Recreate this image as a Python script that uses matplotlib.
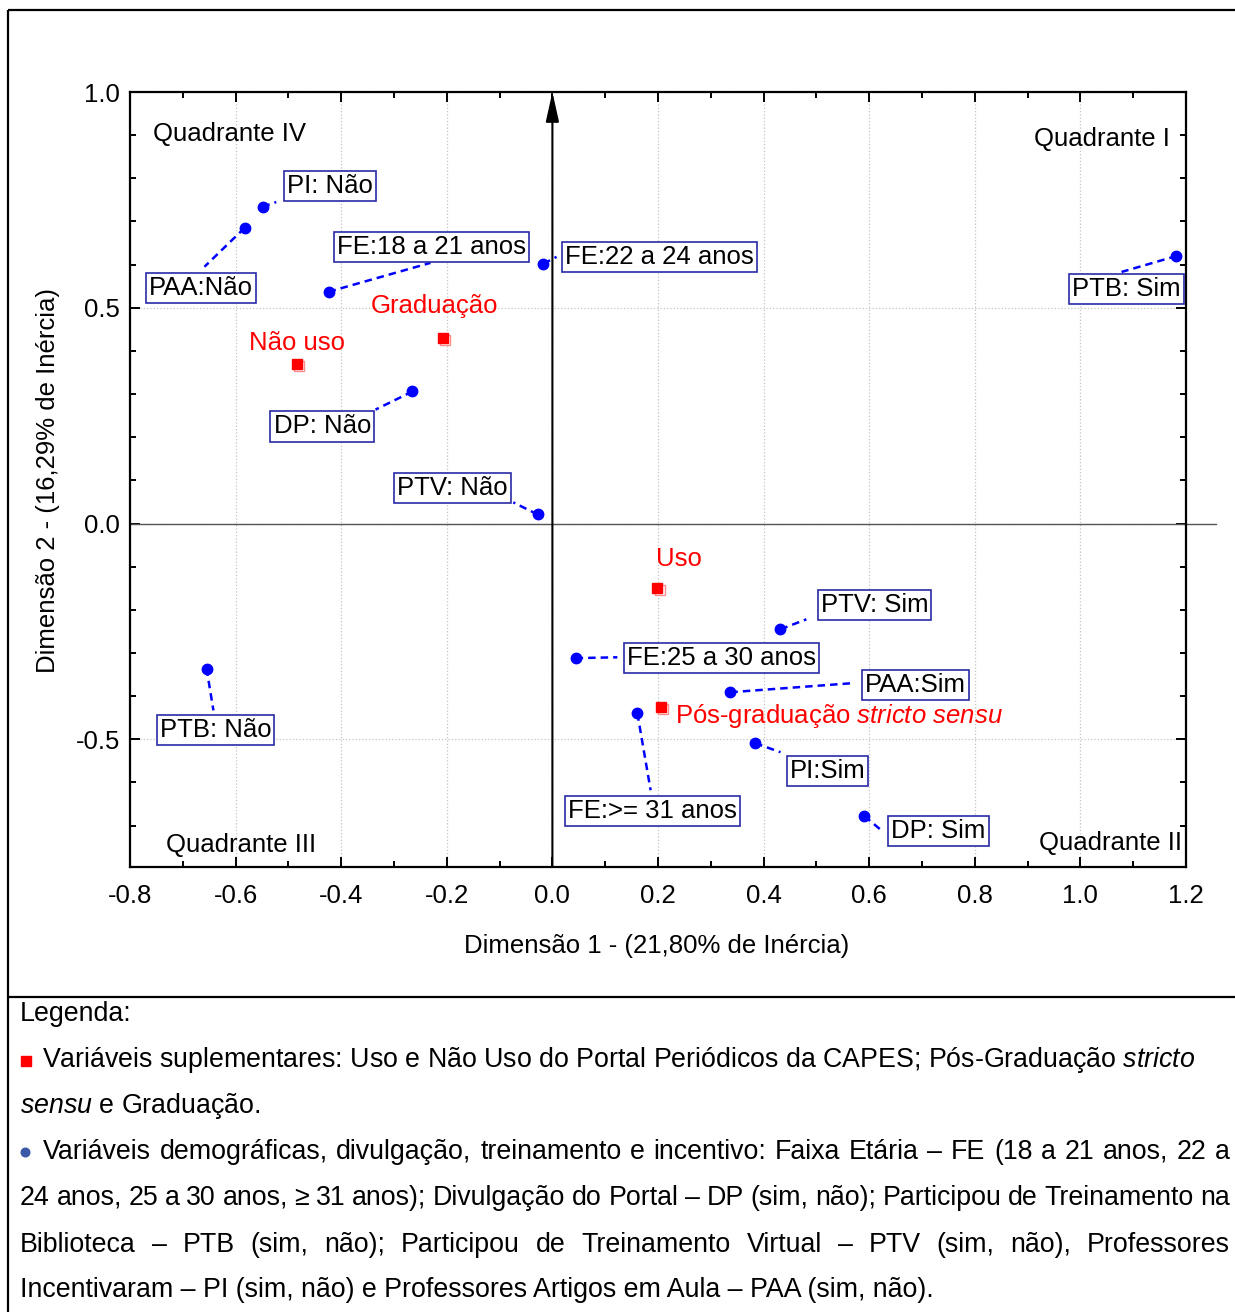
#!/usr/bin/env python3

import numpy as np
import matplotlib
matplotlib.use('Agg')
import matplotlib.pyplot as plt
import matplotlib.transforms as mtransforms

plt.rcParams['font.family'] = ['Liberation Sans', 'DejaVu Sans']
plt.rcParams['axes.unicode_minus'] = False
plt.rcParams['mathtext.fontset'] = 'custom'
plt.rcParams['mathtext.rm'] = 'Liberation Sans'
plt.rcParams['mathtext.it'] = 'Liberation Sans:italic'

#-----------------------------------------------------------------------------#
# data

# active variables (blue dots)
labels = ['PI: Não', 'PAA:Não', 'FE:18 a 21 anos', 'FE:22 a 24 anos', 'PTB: Sim',
          'DP: Não', 'PTV: Não', 'PTB: Não', 'FE:25 a 30 anos', 'PTV: Sim',
          'PAA:Sim', 'FE:>= 31 anos', 'PI:Sim', 'DP: Sim']
dim1 = [-0.549, -0.583, -0.424, -0.017, 1.182, -0.265, -0.028,
        -0.655, 0.044, 0.432, 0.337, 0.161, 0.384, 0.591]
dim2 = [0.734, 0.685, 0.537, 0.602, 0.620, 0.306, 0.021,
        -0.336, -0.312, -0.245, -0.391, -0.440, -0.509, -0.678]

# supplementary variables (red squares)
sup_labels = ['Não uso', 'Graduação', 'Uso',
              r'Pós-graduação $\mathit{stricto\ sensu}$']
sup_dim1 = [-0.483, -0.208, 0.199, 0.206]
sup_dim2 = [0.370, 0.431, -0.150, -0.426]

# where the label boxes sit and where the dashed leaders end
lab_x = [-0.422, -0.665, -0.229, 0.203, 1.087, -0.436, -0.189,
         -0.638, 0.320, 0.610, 0.688, 0.189, 0.521, 0.731]
lab_y = [0.782, 0.546, 0.641, 0.618, 0.544, 0.225, 0.083,
         -0.479, -0.312, -0.188, -0.375, -0.667, -0.574, -0.713]
end_x = [-0.523, -0.659, -0.231, 0.008, 1.078, -0.335, -0.074,
         -0.642, 0.123, 0.481, 0.568, 0.186, 0.432, 0.623]
end_y = [0.745, 0.595, 0.604, 0.618, 0.583, 0.264, 0.049,
         -0.433, -0.310, -0.222, -0.370, -0.618, -0.530, -0.711]

sup_lab_x = [-0.483, -0.223, 0.239, 0.233]
sup_lab_y = [0.419, 0.505, -0.083, -0.447]
sup_lab_ha = ['center', 'center', 'center', 'left']

x_ticks = [-0.8, -0.6, -0.4, -0.2, 0.0, 0.2, 0.4, 0.6, 0.8, 1.0, 1.2]
y_ticks = [-0.5, 0.0, 0.5, 1.0]

legend_lines = [
    'Variáveis demográficas, divulgação, treinamento e incentivo: Faixa Etária – FE (18 a 21 anos, 22 a',
    '24 anos, 25 a 30 anos, ≥ 31 anos); Divulgação do Portal – DP (sim, não); Participou de Treinamento na',
    'Biblioteca – PTB (sim, não); Participou de Treinamento Virtual – PTV (sim, não), Professores',
    'Incentivaram – PI (sim, não) e Professores Artigos em Aula – PAA (sim, não).',
]

#-----------------------------------------------------------------------------#
# figure

W, H = 1235, 1312
fig = plt.figure(figsize=(W / 100, H / 100), dpi=100)

# background layer in pixel coordinates (frame + legend text)
bg = fig.add_axes([0, 0, 1, 1], zorder=0)
bg.set_xlim(0, W)
bg.set_ylim(H, 0)
bg.axis('off')

bg.plot([8, W], [10, 10], color='black', lw=1.6, solid_capstyle='butt')
bg.plot([8, 8], [10, H], color='black', lw=1.6, solid_capstyle='butt')
bg.plot([8, W], [997, 997], color='black', lw=1.6, solid_capstyle='butt')

# main plot
ax = fig.add_axes([130 / W, 1 - 867 / H, 1056 / W, 775 / H], zorder=1)
ax.set_xlim(-0.8, 1.2)
ax.set_ylim(-0.796, 1.0)

fs = 18.5
ax.set_xticks(x_ticks)
ax.set_xticklabels(['%.1f' % v for v in x_ticks])
ax.set_xticks(np.round(np.arange(-0.8, 1.21, 0.1), 2), minor=True)
ax.set_yticks(y_ticks)
ax.set_yticklabels(['%.1f' % v for v in y_ticks])
ax.set_yticks(np.round(np.arange(-0.7, 1.01, 0.1), 2), minor=True)
ax.tick_params(which='both', direction='in', top=True, right=True, width=1.4, labelsize=fs)
ax.tick_params(which='major', length=7)
ax.tick_params(which='minor', length=4)
ax.tick_params(axis='x', pad=12)
ax.tick_params(axis='y', pad=7)
for s in ax.spines.values():
    s.set_linewidth(1.6)
ax.grid(True, which='major', ls=':', color='#c4c4c4', lw=0.9)
ax.set_axisbelow(True)

ax.set_xlabel('Dimensão 1 - (21,80% de Inércia)', fontsize=fs)
ax.set_ylabel('Dimensão 2 - (16,29% de Inércia)', fontsize=fs)
ax.xaxis.set_label_coords(0.499, -0.086)
ax.yaxis.set_label_coords(-0.066, 0.499)

# axes through the origin
ax.plot([-0.8, 1.256], [0, 0], color='#555555', lw=1.0, clip_on=False, zorder=2)
ax.annotate('', xy=(0, 1.0), xytext=(0, -0.796),
            arrowprops=dict(arrowstyle='-|>,head_length=0.9,head_width=0.2',
                            color='black', lw=1.5, mutation_scale=20,
                            shrinkA=0, shrinkB=0), zorder=3)

# quadrant names
ax.text(-0.756, 0.903, 'Quadrante IV', fontsize=fs, ha='left', va='center')
ax.text(1.170, 0.891, 'Quadrante I', fontsize=fs, ha='right', va='center')
ax.text(-0.731, -0.745, 'Quadrante III', fontsize=fs, ha='left', va='center')
ax.text(1.193, -0.741, 'Quadrante II', fontsize=fs, ha='right', va='center')

# dashed leaders, dots and boxed labels
for i in range(len(labels)):
    ax.plot([dim1[i], end_x[i]], [dim2[i], end_y[i]], color='blue', lw=1.8,
            dashes=(3, 2), zorder=4)
ax.plot(dim1, dim2, 'o', color='blue', ms=7.5, zorder=5)
for i in range(len(labels)):
    ax.text(lab_x[i], lab_y[i], labels[i], fontsize=fs, ha='center', va='center', zorder=6,
            bbox=dict(boxstyle='square,pad=0.12', fc='white', ec='#2a2aa8', lw=1.2))

# supplementary squares with a small offset shadow
shadow = ax.transData + mtransforms.ScaledTranslation(1.5 / 72, -1.5 / 72, fig.dpi_scale_trans)
ax.plot(sup_dim1, sup_dim2, 's', mfc='white', mec='#ff8c8c', mew=1.0, ms=7.5,
        transform=shadow, zorder=5)
ax.plot(sup_dim1, sup_dim2, 's', color='#ff0000', ms=7.5, zorder=6)
for i in range(len(sup_labels)):
    ax.text(sup_lab_x[i], sup_lab_y[i], sup_labels[i], fontsize=fs, color='#ff0000',
            ha=sup_lab_ha[i], va='center', zorder=6)

#-----------------------------------------------------------------------------#
# legend text below the chart

r = fig.canvas.get_renderer()
probe = bg.text(0, 0, legend_lines[-1], fontsize=17)
leg_fs = 17 * 915 / probe.get_window_extent(r).width
probe.remove()

baselines = [1021, 1067, 1113, 1159, 1205, 1252, 1297]

bg.text(20, baselines[0], 'Legenda:', fontsize=leg_fs, va='baseline')

bg.plot([25.5], [1060.5], 's', color='#ff0000', ms=7.5)
bg.text(42, baselines[1],
        r'Variáveis suplementares: Uso e Não Uso do Portal Periódicos da CAPES; '
        r'Pós-Graduação $\mathit{stricto}$', fontsize=leg_fs, va='baseline')
bg.text(20, baselines[2], r'$\mathit{sensu}$ e Graduação.', fontsize=leg_fs, va='baseline')

bg.plot([25], [1152], 'o', color='#3a5aa8', ms=6.2)


def justify(line, x0, x1, y):
    words = line.split(' ')
    ts = [bg.text(0, y, w, fontsize=leg_fs, va='baseline', ha='left') for w in words]
    ws = [t.get_window_extent(r).width for t in ts]
    gap = (x1 - x0 - sum(ws)) / (len(words) - 1)
    x = x0
    for t, w in zip(ts, ws):
        t.set_x(x)
        x += w + gap


justify(legend_lines[0], 43, 1230, baselines[3])
justify(legend_lines[1], 20, 1230, baselines[4])
justify(legend_lines[2], 20, 1230, baselines[5])
bg.text(20, baselines[6], legend_lines[3], fontsize=leg_fs, va='baseline')

plt.savefig('out.png', dpi=100)
